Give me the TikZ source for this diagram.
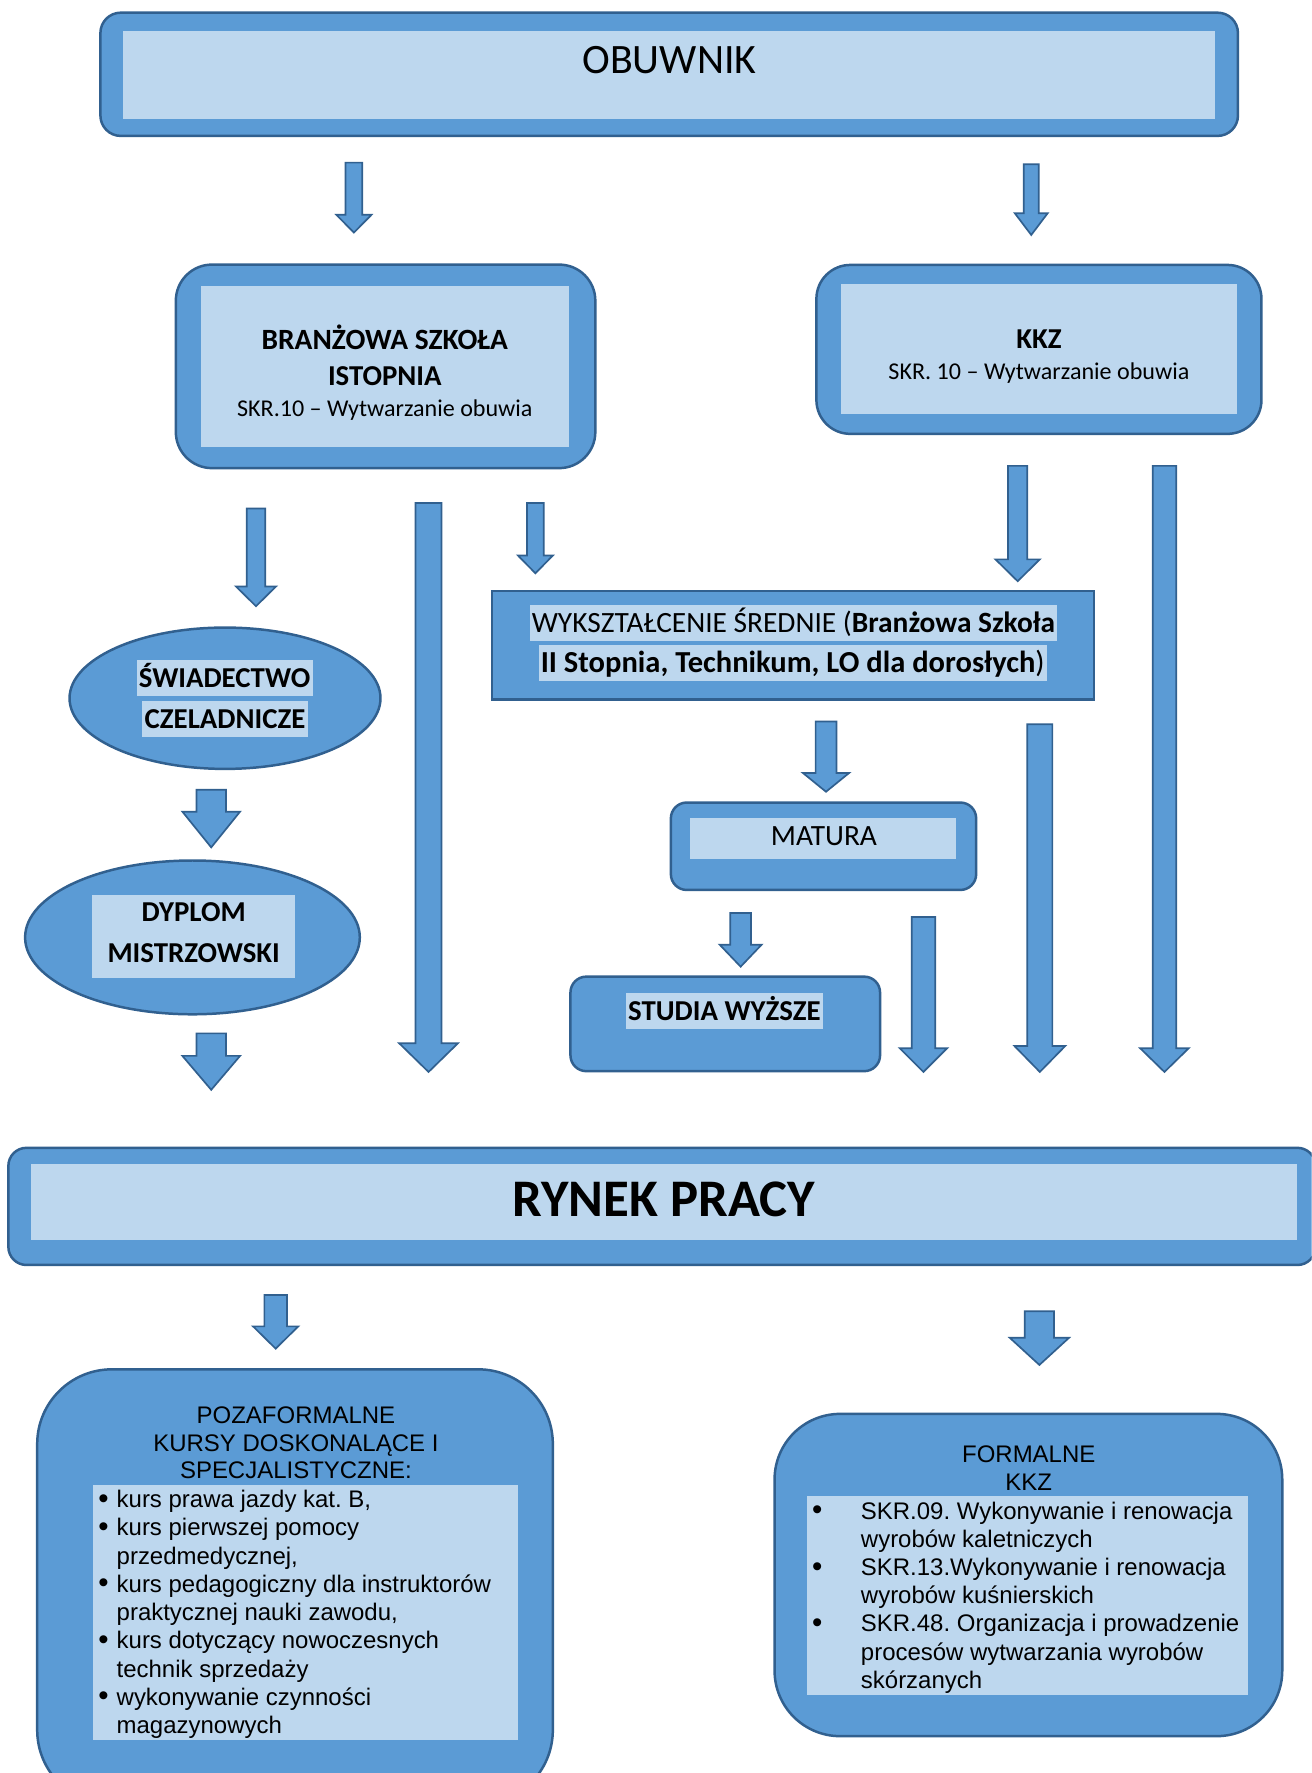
\documentclass[tikz,border=0pt]{standalone}
\usepackage{fontspec}
\setmainfont{Carlito}
\newfontfamily\arialfont{Liberation Sans}
\usetikzlibrary{calc,shapes.geometric}
\frenchspacing

\definecolor{midblue}{HTML}{5B9BD5}
\definecolor{darkblue}{HTML}{31608F}
\definecolor{paleblue}{HTML}{BDD7EE}

\newcommand{\fs}[2]{\fontsize{#1}{#2}\selectfont}
\newcommand{\listbul}[1]{\makebox[#1][l]{\raisebox{-0.5pt}{\fs{26}{25}\textbullet}}}
\newcommand{\listgap}[1]{\hspace*{#1}}
% name, x, top, tip, half shaft, half head, head length
\newcommand{\blockarr}[7]{%
  \coordinate (#1-s) at (#2,#3);
  \coordinate (#1-e) at (#2,#4);
  \draw[blockarrow] ($(#1-s)+(-#5,0)$) -- ($(#1-s)+(#5,0)$) -- ($(#1-e)+(#5,-#7)$)
    -- ($(#1-e)+(#6,-#7)$) -- (#1-e) -- ($(#1-e)+(-#6,-#7)$) -- ($(#1-e)+(-#5,-#7)$) -- cycle;}

\tikzset{
  box/.style={draw=darkblue, fill=midblue, line width=2.2pt},
  inbox/.style={fill=paleblue, inner sep=0pt},
  lbl/.style={inner sep=0pt, anchor=base, font=\fs{25.5}{31}\bfseries},
  hl/.style={anchor=base, fill=paleblue, inner xsep=2pt, inner ysep=2pt,
    text height=22pt, text depth=5.5pt, font=\fs{26}{31}},
  blockarrow/.style={draw=darkblue, fill=midblue, line width=1.5pt, line join=miter},
  listtext/.style={inner sep=0pt, anchor=north west, align=left, font=\arialfont\fs{21.2}{25}},
  listhead/.style={inner sep=0pt, anchor=north, align=center, font=\arialfont\fs{21.2}{24.3}},
}

\begin{document}
\begin{tikzpicture}[x=1pt, y=-1pt]
\useasboundingbox (0,0) rectangle (1160,1568);
\fill[white] (0,0) rectangle (1160,1568);
\clip (0,0) rectangle (1160,1568);

\node[box, rounded corners=18pt, minimum width=1006pt, minimum height=109pt] (obuwnik) at (591.8,65.7) {};
\node[inbox, minimum width=966pt, minimum height=77.8pt] (obuwnik-in) at (591.8,66) {};
\node[lbl, font=\fs{37}{44}] (obuwnik-t) at (592,64.8) {OBUWNIK};

\blockarr{a1}{313}{143.8}{205.7}{7.4}{15.5}{15.7}
\blockarr{a2}{912}{145.3}{207.8}{6.7}{14.5}{19.2}

\node[box, rounded corners=32pt, minimum width=371pt, minimum height=180pt] (branz) at (341,324) {};
\node[inbox, minimum width=325.5pt, minimum height=142pt] (branz-in) at (340.3,323.9) {};
\node[lbl, font=\fs{26}{31}\bfseries] (branz-t1) at (340.3,309.4) {BRANŻOWA SZKOŁA};
\node[lbl] (branz-t2) at (340.3,341) {ISTOPNIA};
\node[lbl, font=\fs{21.3}{26}] (branz-t3) at (340.3,368) {SKR.10 – Wytwarzanie obuwia};

\node[box, rounded corners=30pt, minimum width=393.6pt, minimum height=149.4pt] (kkz) at (918.8,309) {};
\node[inbox, minimum width=350.7pt, minimum height=115pt] (kkz-in) at (918.8,308.7) {};
\node[lbl] (kkz-t1) at (918.8,308) {KKZ};
\node[lbl, font=\fs{21.3}{26}] (kkz-t2) at (918.8,336) {SKR. 10 – Wytwarzanie obuwia};

\blockarr{a3}{226.4}{449.7}{536.1}{8.2}{17.8}{17.5}
\blockarr{a4}{379}{444.8}{948}{11.5}{25.9}{25.3}
\blockarr{a5}{473.5}{444.8}{507}{7.4}{15.5}{15.8}
\blockarr{a6}{900}{412}{514}{8.5}{19.6}{19.3}
\blockarr{a7}{1029.8}{412}{948}{10.4}{21.5}{21}

\node[box, ellipse, minimum width=275pt, minimum height=125pt] (swiad) at (199,617.5) {};
\node[hl, font=\fs{25.5}{31}\bfseries] (swiad-t1) at (198.6,607.9) {ŚWIADECTWO};
\node[hl, font=\fs{25.5}{31}\bfseries] (swiad-t2) at (199,643.9) {CZELADNICZE};

\blockarr{a8}{186.8}{698.5}{749.4}{13}{25.5}{31.6}

\node[box, ellipse, minimum width=296pt, minimum height=136pt] (dyplom) at (170.2,829) {};
\node[inbox, minimum width=179.7pt, minimum height=73pt] (dyplom-in) at (171.3,828.2) {};
\node[lbl] (dyplom-t1) at (171.3,815.3) {DYPLOM};
\node[lbl] (dyplom-t2) at (171.3,851.6) {MISTRZOWSKI};

\blockarr{a9}{186.8}{913.9}{963.8}{13}{25.5}{30}

\node[box, minimum width=532.6pt, minimum height=95.6pt] (wykszt) at (701.3,570.6) {};
\node[hl] (wykszt-t1) at (701.7,559) {WYKSZTAŁCENIE ŚREDNIE (\textbf{Branżowa Szkoła}};
\node[hl, font=\fs{27}{31}] (wykszt-t2) at (701,594.7) {\textbf{II Stopnia, Technikum, LO dla dorosłych})};

\blockarr{a10}{730.5}{638}{700.2}{9.2}{20.3}{16.5}
\blockarr{a11}{919.6}{640.5}{948}{11.1}{22.5}{23}

\node[box, rounded corners=14pt, minimum width=270pt, minimum height=77.3pt] (matura) at (728.3,748.4) {};
\node[inbox, minimum width=235.3pt, minimum height=37pt] (matura-in) at (728,741.5) {};
\node[lbl, font=\fs{26}{31}] (matura-t) at (728.7,747.8) {MATURA};

\blockarr{a12}{655}{807.4}{854.9}{9.2}{18.5}{19.4}
\blockarr{a13}{816.7}{810.9}{948}{10.4}{21}{21}

\node[box, rounded corners=14pt, minimum width=273.8pt, minimum height=83.6pt] (studia) at (641.4,905.5) {};
\node[hl, font=\fs{25.5}{31}\bfseries] (studia-t) at (640.7,902.3) {STUDIA WYŻSZE};

\node[box, rounded corners=16pt, minimum width=1156pt, minimum height=103.6pt] (rynek) at (585.4,1066.9) {};
\node[inbox, minimum width=1119.3pt, minimum height=67.2pt] (rynek-in) at (587,1063.1) {};
\node[lbl, font=\fs{46.7}{56}\bfseries] (rynek-t) at (587,1075.8) {RYNEK PRACY};

\blockarr{a14}{243.8}{1145.3}{1192.7}{10}{20}{19.7}
\blockarr{a15}{919.2}{1159.7}{1207.1}{13}{26.2}{24}

\node[box, rounded corners=66pt, minimum width=456pt, minimum height=385pt] (pozaf) at (260.9,1403.5) {};
\node[inbox, minimum width=375.7pt, minimum height=226pt] (pozaf-in) at (270.2,1426) {};
\node[listhead] (pozaf-h) at (261.7,1242) {\strut POZAFORMALNE\\KURSY DOSKONALĄCE I\\SPECJALISTYCZNE:};
\node[listtext] (pozaf-l) at (86.7,1315.5) {\strut\listbul{16.3pt}kurs prawa jazdy kat. B,\\
  \listbul{16.3pt}kurs pierwszej pomocy\\
  \listgap{16.3pt}przedmedycznej,\\
  \listbul{16.3pt}kurs pedagogiczny dla instruktorów\\
  \listgap{16.3pt}praktycznej nauki zawodu,\\
  \listbul{16.3pt}kurs dotyczący nowoczesnych\\
  \listgap{16.3pt}technik sprzedaży\\
  \listbul{16.3pt}wykonywanie czynności\\
  \listgap{16.3pt}magazynowych};

\node[box, rounded corners=58pt, minimum width=449pt, minimum height=285pt] (formal) at (909.5,1392.9) {};
\node[inbox, minimum width=390pt, minimum height=175.5pt] (formal-in) at (909,1411.2) {};
\node[listhead, font=\arialfont\fs{21.2}{25}] (formal-h) at (909.8,1275.8) {\strut FORMALNE\\KKZ};
\node[listtext, font=\arialfont\fs{21.2}{24.9}] (formal-l) at (718,1326) {\strut\listbul{43.2pt}SKR.09. Wykonywanie i renowacja\\
  \listgap{43.2pt}wyrobów kaletniczych\\
  \listbul{43.2pt}SKR.13.Wykonywanie i renowacja\\
  \listgap{43.2pt}wyrobów kuśnierskich\\
  \listbul{43.2pt}SKR.48. Organizacja i prowadzenie\\
  \listgap{43.2pt}procesów wytwarzania wyrobów\\
  \listgap{43.2pt}skórzanych};
\end{tikzpicture}
\end{document}
